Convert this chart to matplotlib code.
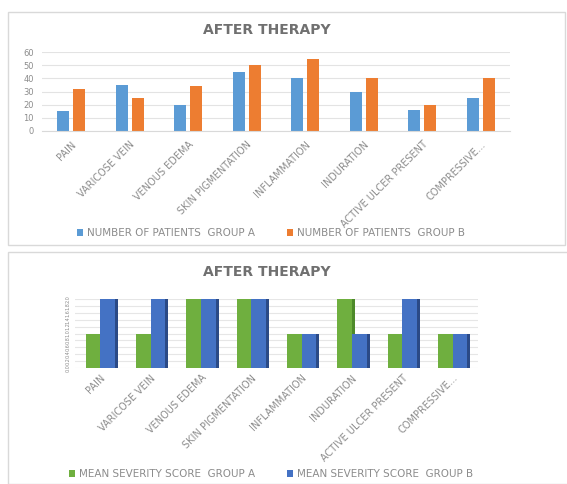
import matplotlib
matplotlib.use("Agg")
import matplotlib.pyplot as plt
import numpy as np
from matplotlib.patches import Rectangle

categories = ["PAIN", "VARICOSE VEIN", "VENOUS EDEMA", "SKIN PIGMENTATION",
              "INFLAMMATION", "INDURATION", "ACTIVE ULCER PRESENT", "COMPRESSIVE..."]
patients_a = [15, 35, 20, 45, 40, 30, 16, 25]
patients_b = [32, 25, 34, 50, 55, 40, 20, 40]
severity_a = [1, 1, 2, 2, 1, 2, 1, 1]
severity_b = [2, 2, 2, 2, 1, 1, 2, 1]
top_yticks = [0, 10, 20, 30, 40, 50, 60]
bot_yticks = [0, 0.2, 0.4, 0.6, 0.8, 1.0, 1.2, 1.4, 1.6, 1.8, 2.0]

W, H = 567, 484
fig = plt.figure(figsize=(W / 100, H / 100), dpi=100)
fig.patch.set_facecolor("white")

def fx(px): return px / W
def fy(py): return 1 - py / H

# panel borders
fig.patches.append(Rectangle((fx(8), fy(245)), fx(565) - fx(8), fy(12) - fy(245),
                             transform=fig.transFigure, fill=False, ec="#d9d9d9", lw=1))
fig.patches.append(Rectangle((fx(8), fy(484)), fx(570) - fx(8), fy(252) - fy(484),
                             transform=fig.transFigure, fill=False, ec="#d9d9d9", lw=1))

gray = "#8c8c8c"
x = np.arange(len(categories))

# ---------- Top chart ----------
ax1 = fig.add_axes([fx(42), fy(131), fx(510) - fx(42), fy(52) - fy(131)])
bw = 0.21
ba = ax1.bar(x - bw / 2 - 0.03, patients_a, bw, color="#5B9BD5", label="NUMBER OF PATIENTS  GROUP A")
bb = ax1.bar(x + bw / 2 + 0.03, patients_b, bw, color="#ED7D31", label="NUMBER OF PATIENTS  GROUP B")
ax1.set_xlim(-0.5, len(categories) - 0.5)
ax1.set_ylim(0, 60)
ax1.set_yticks(top_yticks)
ax1.grid(axis="y", color="#e3e3e3", lw=0.8)
ax1.set_axisbelow(True)
for s in ax1.spines.values():
    s.set_visible(False)
ax1.spines["bottom"].set_visible(True)
ax1.spines["bottom"].set_color("#d9d9d9")
ax1.tick_params(axis="both", length=0, colors=gray, labelsize=6, pad=6)
ax1.set_xticks(x)
ax1.set_xticklabels(categories, rotation=45, ha="right", rotation_mode="anchor",
                    fontsize=7, color=gray)
fig.text(fx(267), fy(30), "AFTER THERAPY", ha="center", va="center",
         fontsize=10, fontweight="semibold", color="#707070")
fig.legend(handles=[ba, bb], loc="center", bbox_to_anchor=(fx(271), fy(233)), ncol=2,
           frameon=False, fontsize=7.5, labelcolor=gray, handlelength=0.6,
           handleheight=0.6, columnspacing=3.0, handletextpad=0.4)

# ---------- Bottom chart (pseudo 3D) ----------
ax2 = fig.add_axes([fx(75), fy(368), fx(478) - fx(75), fy(299) - fy(368)])
bw2 = 0.29
side = 0.06
green, green_d = "#6FAF3F", "#4E8A2A"
blue, blue_d = "#4472C4", "#2B4A86"
ga = ax2.bar(x - bw2 / 2, severity_a, bw2, color=green, label="MEAN SEVERITY SCORE  GROUP A", zorder=3)
gb = ax2.bar(x + bw2 / 2, severity_b, bw2, color=blue, label="MEAN SEVERITY SCORE  GROUP B", zorder=4)
# side faces
ax2.bar(x + bw2 + side / 2, severity_b, side, color=blue_d, zorder=2)
ax2.bar(x + side / 2, severity_a, side, color=green_d, zorder=2)
ax2.set_xlim(-0.5, len(categories) - 0.5)
ax2.set_ylim(0, 2)
ax2.set_yticks(bot_yticks)
ax2.set_yticklabels([f"{v:.1f}" for v in bot_yticks], rotation=90, fontsize=3.5,
                    color=gray, va="center")
ax2.grid(axis="y", color="#e6e6e6", lw=0.8)
ax2.set_axisbelow(True)
for s in ax2.spines.values():
    s.set_visible(False)
ax2.tick_params(axis="both", length=0, colors=gray)
ax2.set_xticks(x)
ax2.set_xticklabels(categories, rotation=45, ha="right", rotation_mode="anchor",
                    fontsize=7, color=gray)
fig.text(fx(267), fy(272), "AFTER THERAPY", ha="center", va="center",
         fontsize=10, fontweight="semibold", color="#707070")
fig.legend(handles=[ga, gb], loc="center", bbox_to_anchor=(fx(271), fy(474)), ncol=2,
           frameon=False, fontsize=7.5, labelcolor=gray, handlelength=0.6,
           handleheight=0.6, columnspacing=3.0, handletextpad=0.4)

fig.savefig("out.png", dpi=100)
